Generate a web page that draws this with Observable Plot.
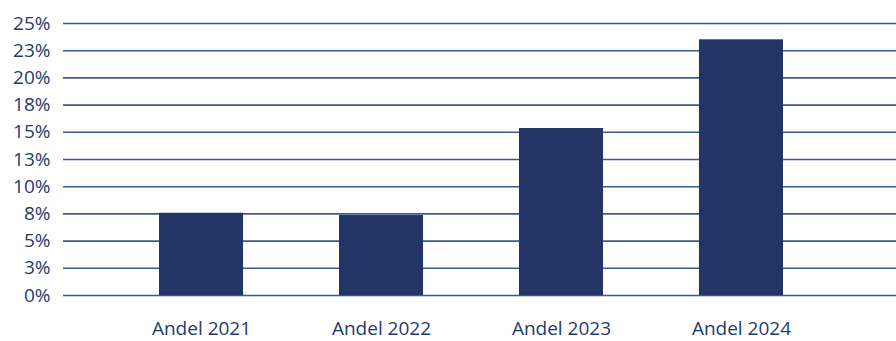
<!DOCTYPE html>
<html>
<head>
<meta charset="utf-8">
<script src="https://cdn.jsdelivr.net/npm/d3@7"></script>
<script src="https://cdn.jsdelivr.net/npm/@observablehq/plot@0.6"></script>
<style>
  html, body { margin: 0; padding: 0; background: #fff; }
  #chart svg { display: block; }
</style>
</head>
<body>
<div id="chart"></div>
<script>
const categories = ["Andel 2021", "Andel 2022", "Andel 2023", "Andel 2024"];
const values = [7.56, 7.35, 15.35, 23.5];
const tickValues = [0, 2.5, 5, 7.5, 10, 12.5, 15, 17.5, 20, 22.5, 25];
const tickLabels = ["0%", "3%", "5%", "8%", "10%", "13%", "15%", "18%", "20%", "23%", "25%"];

const data = categories.map((c, i) => ({category: c, value: values[i]}));
const labelOf = new Map(tickValues.map((t, i) => [t, tickLabels[i]]));

const textColor = "#1f3a6e";
const gridColor = "#3a5a8c";
const barColor = "#233466";

const chart = Plot.plot({
  width: 896,
  height: 341,
  marginLeft: 63,
  marginRight: 0,
  marginTop: 23,
  marginBottom: 46,
  style: {fontFamily: "'Open Sans', sans-serif", fontSize: "19px", color: textColor, background: "#fff"},
  x: {domain: categories, range: [111, 831], paddingInner: 0.533, paddingOuter: 0.2667, round: false, label: null},
  y: {domain: [0, 25], label: null},
  marks: [
    Plot.ruleY(tickValues, {stroke: gridColor, strokeWidth: 1.6}),
    Plot.barY(data, {x: "category", y: "value", fill: barColor}),
    Plot.axisY(tickValues, {tickSize: 0, tickPadding: 13, tickFormat: d => labelOf.get(d), fill: textColor, fontSize: 19}),
    Plot.axisX({tickSize: 0, tickPadding: 26, fill: textColor, fontSize: 19})
  ]
});
document.getElementById("chart").appendChild(chart);
</script>
</body>
</html>
